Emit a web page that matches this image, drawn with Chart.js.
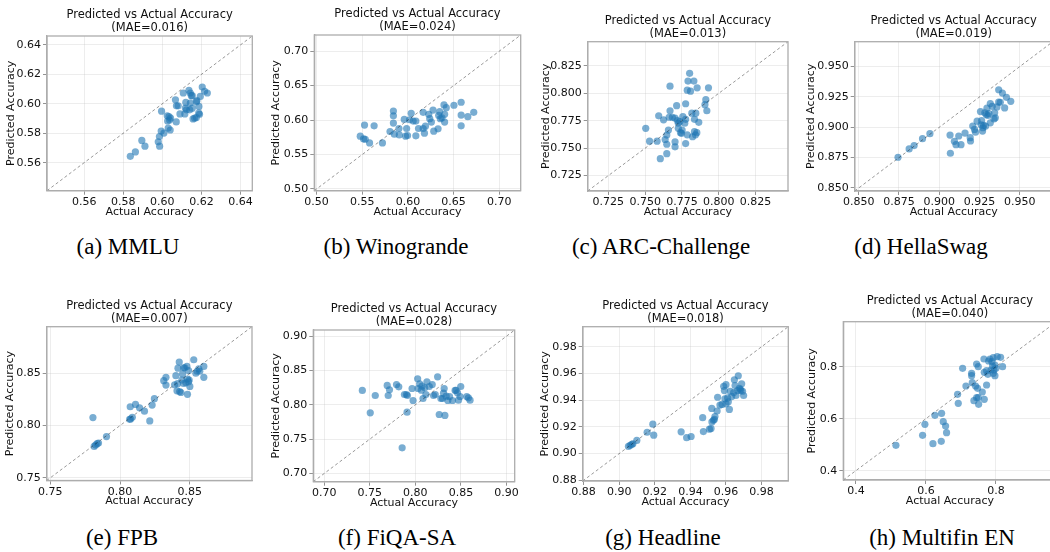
<!DOCTYPE html>
<html>
<head>
<meta charset="utf-8">
<script src="https://cdn.jsdelivr.net/npm/chart.js@4.4.1/dist/chart.umd.min.js"></script>
<style>
  body { margin: 0; width: 1050px; height: 552px; overflow: hidden; background: #fff; position: relative; }
  canvas { position: absolute; }
  .onderschrift {
    position: absolute; transform: translateX(-50%); white-space: nowrap;
    font-family: "Liberation Serif", "Times New Roman", serif; font-size: 23px; line-height: 26px; color: #000;
  }
</style>
</head>
<body>
<script>
// Werkelijke en voorspelde nauwkeurigheid per benchmark
const mmluActual = [0.5836,0.5862,0.5895,0.5911,0.5979,0.5986,0.5985,0.5994,0.6008,0.5996,0.6025,0.6034,0.6027,0.6037,0.6042,0.6030,0.6040,0.6067,0.6072,0.6081,0.6071,0.6090,0.6107,0.6115,0.6120,0.6118,0.6123,0.6136,0.6143,0.6148,0.6153,0.6143,0.6153,0.6140,0.6157,0.6165,0.6174,0.6177,0.6187,0.6186,0.6190,0.6194,0.6204,0.6216,0.6230,0.6174];
const mmluPredicted = [0.5643,0.5673,0.5751,0.5712,0.5742,0.5712,0.5778,0.5815,0.5801,0.5950,0.5918,0.5913,0.5883,0.5890,0.5902,0.5835,0.5822,0.6027,0.5986,0.5986,0.5877,0.5931,0.6073,0.5931,0.6009,0.5970,0.5959,0.6091,0.6073,0.6055,0.6055,0.6005,0.5970,0.5959,0.5897,0.5902,0.6014,0.6021,0.5982,0.5936,0.5929,0.6050,0.6114,0.6085,0.6073,0.5906];

const winograndeActual = [0.5478,0.5514,0.5533,0.5525,0.5580,0.5630,0.5721,0.5804,0.5841,0.5841,0.5841,0.5851,0.5902,0.5906,0.5960,0.5975,0.5986,0.5996,0.6018,0.6036,0.6058,0.6087,0.6087,0.6116,0.6167,0.6167,0.6181,0.6192,0.6228,0.6239,0.6257,0.6275,0.6283,0.6330,0.6337,0.6348,0.6355,0.6373,0.6395,0.6402,0.6402,0.6420,0.6504,0.6583,0.6583,0.6583,0.6656,0.6721];
const winograndePredicted = [0.5766,0.5727,0.5722,0.5927,0.5668,0.5917,0.5668,0.5834,0.6132,0.6063,0.5956,0.5795,0.5878,0.5785,0.6010,0.5766,0.5878,0.5776,0.6005,0.6098,0.5985,0.5985,0.5771,0.5878,0.6112,0.5878,0.5810,0.5912,0.6083,0.6020,0.5971,0.6146,0.5839,0.5873,0.6068,0.6122,0.6020,0.6034,0.6220,0.6083,0.5971,0.6180,0.6215,0.6259,0.6073,0.5917,0.6049,0.6112];

const arcActual = [0.7504,0.7530,0.7581,0.7592,0.7603,0.7625,0.7636,0.7647,0.7647,0.7647,0.7658,0.7663,0.7669,0.7669,0.7685,0.7703,0.7703,0.7703,0.7714,0.7720,0.7725,0.7725,0.7736,0.7740,0.7747,0.7751,0.7756,0.7769,0.7775,0.7775,0.7775,0.7786,0.7786,0.7791,0.7802,0.7808,0.7817,0.7822,0.7831,0.7835,0.7835,0.7844,0.7842,0.7851,0.7853,0.7864,0.7906,0.7912,0.7919,0.7930];
const arcPredicted = [0.7681,0.7564,0.7564,0.7795,0.7404,0.7758,0.7579,0.7536,0.7619,0.7450,0.7665,0.7782,0.7841,0.8065,0.7782,0.7773,0.7558,0.7512,0.7887,0.7752,0.7727,0.7681,0.7742,0.7641,0.7635,0.7665,0.7788,0.7727,0.7763,0.7905,0.7542,0.7622,0.8028,0.8111,0.8182,0.8019,0.7819,0.7604,0.8111,0.7763,0.7650,0.7819,0.7622,0.7641,0.8050,0.7736,0.7896,0.7942,0.7841,0.8050];

const hellaswagActual = [0.8744,0.8813,0.8844,0.8896,0.8942,0.9067,0.9069,0.9094,0.9104,0.9121,0.9135,0.9160,0.9192,0.9194,0.9208,0.9219,0.9225,0.9235,0.9256,0.9260,0.9263,0.9269,0.9271,0.9275,0.9283,0.9288,0.9292,0.9296,0.9302,0.9308,0.9317,0.9317,0.9329,0.9340,0.9344,0.9348,0.9358,0.9369,0.9369,0.9379,0.9392,0.9406,0.9417,0.9444];
const hellaswagPredicted = [0.8753,0.8822,0.8849,0.8906,0.8947,0.8936,0.8786,0.8884,0.8857,0.8928,0.8857,0.8952,0.8914,0.8887,0.9010,0.8982,0.8960,0.9050,0.9129,0.9020,0.9056,0.8969,0.8996,0.9015,0.9119,0.9010,0.9105,0.9157,0.9097,0.9113,0.9195,0.9037,0.9173,0.9069,0.9119,0.9078,0.9168,0.9309,0.9208,0.9206,0.9282,0.9159,0.9247,0.9214];

const fpbActual = [0.7806,0.7815,0.7825,0.7836,0.7846,0.7903,0.8069,0.8076,0.8088,0.8073,0.8111,0.8140,0.8175,0.8213,0.8230,0.8246,0.8313,0.8329,0.8329,0.8391,0.8400,0.8408,0.8412,0.8415,0.8424,0.8427,0.8436,0.8443,0.8448,0.8455,0.8455,0.8464,0.8472,0.8479,0.8483,0.8483,0.8491,0.8491,0.8495,0.8500,0.8528,0.8543,0.8552,0.8564,0.8571,0.8600,0.8600];
const fpbPredicted = [0.8076,0.7801,0.7814,0.7827,0.7833,0.7895,0.8060,0.8063,0.8079,0.8180,0.8202,0.8170,0.8138,0.8044,0.8196,0.8257,0.8429,0.8461,0.8387,0.8390,0.8477,0.8332,0.8400,0.8549,0.8607,0.8325,0.8316,0.8435,0.8494,0.8403,0.8552,0.8552,0.8409,0.8565,0.8299,0.8445,0.8526,0.8419,0.8435,0.8374,0.8629,0.8500,0.8519,0.8542,0.8519,0.8565,0.8461];

const fiqaActual = [0.7418,0.7505,0.7560,0.7691,0.7702,0.7716,0.7793,0.7818,0.7855,0.7880,0.7902,0.7913,0.7909,0.7964,0.7975,0.8025,0.8029,0.8047,0.8065,0.8073,0.8084,0.8102,0.8116,0.8127,0.8153,0.8185,0.8200,0.8218,0.8244,0.8262,0.8280,0.8298,0.8309,0.8316,0.8324,0.8338,0.8356,0.8375,0.8407,0.8436,0.8447,0.8462,0.8473,0.8491,0.8498,0.8564,0.8582,0.8600];
const fiqaPredicted = [0.8209,0.7883,0.8136,0.8282,0.8136,0.8218,0.8296,0.8262,0.7374,0.8150,0.8150,0.8136,0.7893,0.8238,0.8063,0.8379,0.8238,0.8306,0.8214,0.8272,0.8092,0.8248,0.8150,0.8335,0.8267,0.8296,0.8136,0.8150,0.8408,0.7859,0.8092,0.8092,0.8170,0.8238,0.7845,0.8126,0.8063,0.8121,0.8063,0.8209,0.8209,0.8175,0.8068,0.8121,0.8267,0.8121,0.8102,0.8068];

const headlineActual = [0.9052,0.9062,0.9071,0.9077,0.9099,0.9157,0.9189,0.9194,0.9348,0.9379,0.9404,0.9469,0.9473,0.9507,0.9516,0.9520,0.9521,0.9529,0.9535,0.9538,0.9550,0.9553,0.9566,0.9578,0.9587,0.9591,0.9594,0.9600,0.9600,0.9609,0.9613,0.9619,0.9624,0.9632,0.9643,0.9647,0.9651,0.9656,0.9665,0.9669,0.9675,0.9680,0.9684,0.9688,0.9693,0.9699];
const headlinePredicted = [0.9054,0.9062,0.9069,0.9074,0.9099,0.9160,0.9220,0.9138,0.9163,0.9119,0.9128,0.9269,0.9165,0.9183,0.9188,0.9338,0.9237,0.9249,0.9257,0.9277,0.9319,0.9422,0.9363,0.9368,0.9504,0.9472,0.9410,0.9516,0.9373,0.9417,0.9388,0.9331,0.9467,0.9427,0.9457,0.9553,0.9509,0.9435,0.9472,0.9583,0.9489,0.9481,0.9472,0.9523,0.9467,0.9435];

const multifinActual = [0.5143,0.5905,0.5971,0.6200,0.6257,0.6438,0.6448,0.6495,0.6562,0.6590,0.6905,0.6924,0.7048,0.7143,0.7305,0.7305,0.7324,0.7371,0.7419,0.7448,0.7448,0.7495,0.7495,0.7505,0.7476,0.7610,0.7657,0.7667,0.7667,0.7733,0.7733,0.7771,0.7790,0.7829,0.7857,0.7886,0.7905,0.7924,0.7924,0.7943,0.7971,0.7971,0.8000,0.8038,0.8133,0.8190];
const multifinPredicted = [0.4974,0.5359,0.5782,0.5038,0.6128,0.5128,0.6205,0.5885,0.5718,0.5462,0.6936,0.6590,0.7936,0.7256,0.7744,0.7654,0.7385,0.6692,0.7256,0.8103,0.6808,0.8000,0.6808,0.6551,0.7167,0.7026,0.8295,0.7782,0.6744,0.7846,0.7295,0.7705,0.8218,0.8295,0.7872,0.8192,0.8026,0.7744,0.8346,0.7872,0.7654,0.8064,0.7936,0.8385,0.8359,0.8000];

// Asbereik (zelfde voor x en y) en tickwaarden
const mmluRange = [0.541, 0.646],        mmluTicks = [0.56, 0.58, 0.60, 0.62, 0.64];
const winograndeRange = [0.4975, 0.7235], winograndeTicks = [0.50, 0.55, 0.60, 0.65, 0.70];
const arcRange = [0.711, 0.847],          arcTicks = [0.725, 0.750, 0.775, 0.800, 0.825];
const hellaswagRange = [0.8475, 0.9705],  hellaswagTicks = [0.850, 0.875, 0.900, 0.925, 0.950];
const fpbRange = [0.7475, 0.8945],        fpbTicks = [0.75, 0.80, 0.85];
const fiqaRange = [0.688, 0.909],         fiqaTicks = [0.70, 0.75, 0.80, 0.85, 0.90];
const headlineRange = [0.8795, 0.995],    headlineTicks = [0.88, 0.90, 0.92, 0.94, 0.96, 0.98];
const multifinRange = [0.364, 0.973],     multifinTicks = [0.4, 0.6, 0.8];

const maeLabels = ["0.016", "0.024", "0.013", "0.019", "0.007", "0.028", "0.018", "0.040"];
const onderschriften = ["(a) MMLU", "(b) Winogrande", "(c) ARC-Challenge", "(d) HellaSwag",
                        "(e) FPB", "(f) FiQA-SA", "(g) Headline", "(h) Multifin EN"];

// Plaats van elk plotvak op de pagina: [links, boven, rechts, onder], breedte y-as, onderschrift x/y
const panelen = [
  { act: mmluActual, pred: mmluPredicted, bereik: mmluRange, ticks: mmluTicks, dec: 2, vak: [47, 36, 252.3, 190.7], yb: 41.8, ox: 128, oy: 247 },
  { act: winograndeActual, pred: winograndePredicted, bereik: winograndeRange, ticks: winograndeTicks, dec: 2, vak: [314.3, 35, 520.7, 190.7], yb: 43.5, ox: 396, oy: 247 },
  { act: arcActual, pred: arcPredicted, bereik: arcRange, ticks: arcTicks, dec: 3, vak: [587.7, 41.7, 788, 191], yb: 47.5, ox: 661, oy: 247 },
  { act: hellaswagActual, pred: hellaswagPredicted, bereik: hellaswagRange, ticks: hellaswagTicks, dec: 3, vak: [854.7, 41.7, 1052.8, 191], yb: 48.9, ox: 921, oy: 247 },
  { act: fpbActual, pred: fpbPredicted, bereik: fpbRange, ticks: fpbTicks, dec: 2, vak: [46.7, 326.7, 252, 480.5], yb: 42.2, ox: 122, oy: 538 },
  { act: fiqaActual, pred: fiqaPredicted, bereik: fiqaRange, ticks: fiqaTicks, dec: 2, vak: [313.3, 330, 516.7, 481.7], yb: 42.5, ox: 397, oy: 538 },
  { act: headlineActual, pred: headlinePredicted, bereik: headlineRange, ticks: headlineTicks, dec: 2, vak: [582.7, 326.7, 788.3, 481], yb: 43.2, ox: 663, oy: 538 },
  { act: multifinActual, pred: multifinPredicted, bereik: multifinRange, ticks: multifinTicks, dec: 1, vak: [843.3, 321.7, 1056.5, 480], yb: 36.5, ox: 942, oy: 538 }
];

const TITEL_H = 28;   // twee titelregels van 13px + 2px ruimte
const XAS_H = 27.5;   // ticklabels + astitel onder het plotvak
const lettertype = "'DejaVu Sans', sans-serif";
const randKleur = '#adadad';

// Tekent de bovenste en rechter rand van het plotvak
const kaderPlugin = {
  id: 'kader',
  afterDraw(chart) {
    const { ctx, chartArea: a } = chart;
    ctx.save();
    ctx.strokeStyle = randKleur;
    ctx.lineWidth = 1.3;
    ctx.strokeRect(a.left, a.top, a.right - a.left, a.bottom - a.top);
    ctx.restore();
  }
};

function asOpties(p, titel, isX) {
  return {
    type: 'linear',
    position: isX ? 'bottom' : 'left',
    min: p.bereik[0],
    max: p.bereik[1],
    afterBuildTicks: s => { s.ticks = p.ticks.map(v => ({ value: v })); },
    afterFit: s => { if (isX) s.height = p.xh; else s.width = p.ybEff; },
    grid: { color: 'rgba(190,190,190,0.35)', lineWidth: 0.8, tickColor: '#777', tickLength: 4 },
    border: { color: randKleur, width: 1.3 },
    ticks: {
      padding: 2,
      color: '#111',
      font: { family: lettertype, size: 11, lineHeight: 1 },
      callback: v => Number(v).toFixed(p.dec)
    },
    title: {
      display: true,
      text: titel,
      color: '#111',
      padding: 0,
      font: { family: lettertype, size: 11, lineHeight: '13px' }
    }
  };
}

panelen.forEach((p, i) => {
  const [l, t, r, b] = p.vak;
  const cl = Math.floor(l - p.yb);
  const ct = Math.floor(t - TITEL_H);
  const breedte = Math.ceil(r - cl + 4);
  const hoogte = Math.ceil(b - ct + XAS_H);
  p.ybEff = l - cl;
  p.xh = hoogte - (b - ct);

  const canvas = document.createElement('canvas');
  canvas.width = breedte;
  canvas.height = hoogte;
  canvas.style.left = cl + 'px';
  canvas.style.top = ct + 'px';
  document.body.appendChild(canvas);

  const punten = p.act.map((x, k) => ({ x: x, y: p.pred[k] }));
  const diagonaal = [{ x: p.bereik[0], y: p.bereik[0] }, { x: p.bereik[1], y: p.bereik[1] }];

  new Chart(canvas.getContext('2d'), {
    type: 'scatter',
    data: {
      datasets: [
        {
          type: 'line',
          data: diagonaal,
          borderColor: 'rgba(0,0,0,0.45)',
          borderWidth: 0.9,
          borderDash: [3, 2.5],
          pointRadius: 0,
          fill: false
        },
        {
          data: punten,
          backgroundColor: 'rgba(31,119,180,0.6)',
          borderWidth: 0,
          pointRadius: 3.6,
          pointHoverRadius: 3.6
        }
      ]
    },
    options: {
      responsive: false,
      animation: false,
      devicePixelRatio: 1,
      layout: { padding: { left: 0, right: breedte - (r - cl), top: t - TITEL_H - ct, bottom: 0 } },
      plugins: {
        legend: { display: false },
        tooltip: { enabled: false },
        title: {
          display: true,
          fullSize: false,
          text: ['Predicted vs Actual Accuracy', '(MAE=' + maeLabels[i] + ')'],
          color: '#111',
          padding: { top: 1, bottom: 1 },
          font: { family: lettertype, size: 11.5, weight: 'normal', lineHeight: '13px' }
        }
      },
      scales: {
        x: asOpties(p, 'Actual Accuracy', true),
        y: asOpties(p, 'Predicted Accuracy', false)
      }
    },
    plugins: [kaderPlugin]
  });

  // Onderschrift onder het paneel
  const div = document.createElement('div');
  div.className = 'onderschrift';
  div.textContent = onderschriften[i];
  div.style.left = p.ox + 'px';
  div.style.top = (p.oy - 13) + 'px';
  document.body.appendChild(div);
});
</script>
</body>
</html>
